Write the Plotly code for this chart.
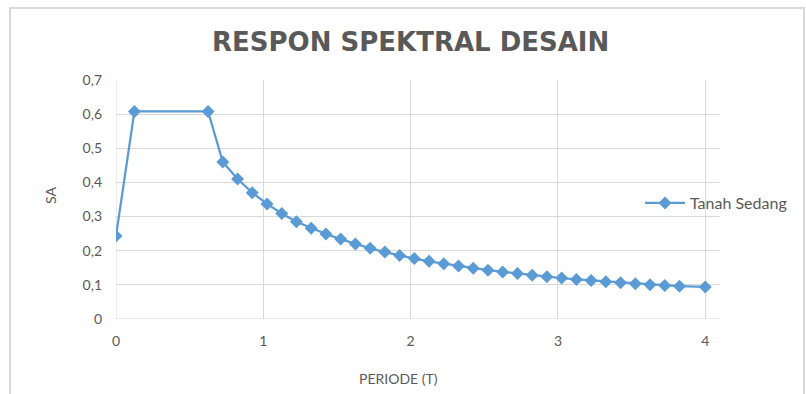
import plotly.graph_objects as go

# Data
periode_t = [0.0, 0.125, 0.625, 0.725, 0.825, 0.925, 1.025, 1.125, 1.225, 1.325,
             1.425, 1.525, 1.625, 1.725, 1.825, 1.925, 2.025, 2.125, 2.225, 2.325,
             2.425, 2.525, 2.625, 2.725, 2.825, 2.925, 3.025, 3.125, 3.225, 3.325,
             3.425, 3.525, 3.625, 3.725, 3.825, 4.0]
sa_tanah_sedang = [0.243, 0.608, 0.608, 0.460, 0.410, 0.370, 0.337, 0.309, 0.285, 0.266,
                   0.249, 0.234, 0.220, 0.207, 0.196, 0.186, 0.177, 0.169, 0.162, 0.155,
                   0.149, 0.143, 0.138, 0.133, 0.128, 0.124, 0.120, 0.116, 0.113, 0.109,
                   0.106, 0.103, 0.100, 0.098, 0.096, 0.094]
series_name = "Tanah Sedang"
chart_title = "RESPON SPEKTRAL DESAIN"
x_title = "PERIODE (T)"
y_title = "SA"
x_ticks = [0, 1, 2, 3, 4]
y_ticks = [0, 0.1, 0.2, 0.3, 0.4, 0.5, 0.6, 0.7]
y_ticktext = ["0", "0,1", "0,2", "0,3", "0,4", "0,5", "0,6", "0,7"]

W, H = 806, 394
TXT = "#595959"
GRID = "#d9d9d9"
BLUE = "#5B9BD5"
FONT = "Lato"

def px(x):
    return x / W

def py(y):
    return (H - y) / H

fig = go.Figure()
fig.add_trace(go.Scatter(
    x=periode_t, y=sa_tanah_sedang, name=series_name, mode="lines+markers",
    line=dict(color=BLUE, width=2.25),
    marker=dict(symbol="diamond", size=10, color=BLUE),
))

fig.update_layout(
    width=W, height=H,
    margin=dict(l=0, r=0, t=0, b=0),
    paper_bgcolor="white", plot_bgcolor="white",
    separators=",.",
    font=dict(family=FONT, color=TXT, size=14),
    showlegend=True,
    legend=dict(x=px(640), y=py(203), xanchor="left", yanchor="middle",
                itemwidth=40,
                font=dict(family=FONT, size=16, color=TXT),
                bgcolor="rgba(0,0,0,0)"),
    xaxis=dict(domain=[px(116), px(720)], range=[0, 4.1], tickvals=x_ticks,
               showgrid=True, gridcolor=GRID, gridwidth=1, zeroline=False,
               showline=False, ticks="", ticklabelstandoff=12,
               tickfont=dict(family=FONT, size=14, color=TXT),
               automargin=False),
    yaxis=dict(domain=[py(319), py(80)], range=[0, 0.7], tickvals=y_ticks,
               ticktext=y_ticktext, showgrid=True, gridcolor=GRID, gridwidth=1,
               zeroline=False, showline=False, ticks="", ticklabelstandoff=13,
               tickfont=dict(family=FONT, size=14, color=TXT),
               automargin=False),
)

# left axis line (x=0) and bottom line
fig.add_shape(type="line", xref="x", yref="y", x0=0, x1=0, y0=0, y1=0.7,
              line=dict(color=GRID, width=1), layer="below")
fig.add_shape(type="line", xref="paper", yref="y", x0=px(116), x1=px(720), y0=0, y1=0,
              line=dict(color=GRID, width=1), layer="below")

# outer frame
fig.add_shape(type="rect", xref="paper", yref="paper",
              x0=px(10), x1=px(804), y0=py(400), y1=py(8),
              line=dict(color="#d9d9d9", width=2), fillcolor="rgba(0,0,0,0)", layer="below")

fig.add_annotation(text=chart_title, xref="paper", yref="paper", x=px(410), y=py(42),
                   xanchor="center", yanchor="middle", showarrow=False,
                   font=dict(family="DejaVu Sans", size=26, color=TXT, weight="bold"))
fig.add_annotation(text=x_title, xref="paper", yref="paper", x=px(398), y=py(378),
                   xanchor="center", yanchor="middle", showarrow=False,
                   font=dict(family=FONT, size=14, color=TXT))
fig.add_annotation(text=y_title, xref="paper", yref="paper", x=px(50), y=py(196),
                   xanchor="center", yanchor="middle", showarrow=False, textangle=-90,
                   font=dict(family=FONT, size=14, color=TXT))

fig.write_html("out.html")
